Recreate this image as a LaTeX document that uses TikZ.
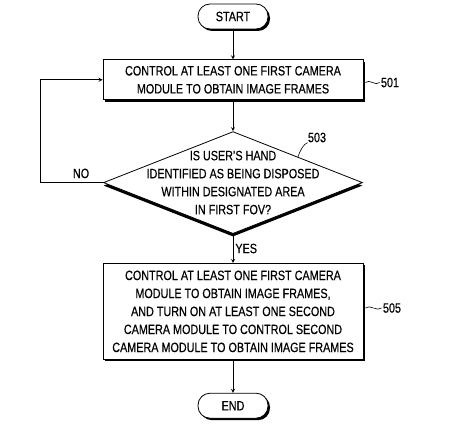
\documentclass[tikz,border=0pt]{standalone}
\usepackage{fontspec}
\setmainfont{Liberation Sans}[FakeStretch=0.8,FakeBold=0.4]
\usetikzlibrary{positioning,shapes.geometric,shadows}

\begin{document}
\begin{tikzpicture}[>=stealth, line width=0.8pt, font=\fontsize{13.5}{18}\selectfont,
  shad/.style={drop shadow={shadow xshift=2pt, shadow yshift=-2pt, fill=black, opacity=1}},
  term/.style={draw, fill=white, rounded corners=12pt, shad, minimum width=70pt, minimum height=25pt, inner sep=0pt},
  proc/.style={draw, fill=white, shad, align=center, minimum width=260pt, inner sep=0pt},
  decision/.style={draw, fill=white, diamond, minimum width=259pt, minimum height=102pt, inner sep=0pt,
    drop shadow={shadow xshift=0pt, shadow yshift=-3pt, fill=black, opacity=1}},
  refnum/.style={inner sep=0pt},
  leader/.style={line width=0.6pt}]
 \useasboundingbox (0,0) rectangle (463pt,-430pt);
 % flow, top to bottom
 \node[term] (start) at (233pt,-16.5pt) {START};
 \node[proc, minimum height=40pt, below=30pt of start] (S501) {CONTROL AT LEAST ONE FIRST CAMERA\\MODULE TO OBTAIN IMAGE FRAMES};
 \node[decision, below=31pt of S501] (S503) {};
 \node[align=center, inner sep=0pt] (q503) at (S503) {IS USER'S HAND\\IDENTIFIED AS BEING DISPOSED\\WITHIN DESIGNATED AREA\\IN FIRST FOV?};
 \node[proc, minimum height=96pt, below=29pt of S503] (S505) {CONTROL AT LEAST ONE FIRST CAMERA\\MODULE TO OBTAIN IMAGE FRAMES,\\AND TURN ON AT LEAST ONE SECOND\\CAMERA MODULE TO CONTROL SECOND\\CAMERA MODULE TO OBTAIN IMAGE FRAMES};
 \node[term, below=33pt of S505] (end) {END};
 % reference numerals
 \node[refnum] (n501) at (390pt,-82.5pt) {501};
 \node[refnum] (n503) at (317pt,-137.5pt) {503};
 \node[refnum] (n505) at (392pt,-308pt) {505};
 \draw[leader] ([xshift=2pt]S501.east |- n501.west) .. controls +(4pt,4pt) and +(-4pt,-4pt) .. ([xshift=-1pt]n501.west);
 \draw[leader] ([xshift=2pt]S505.east |- n505.west) .. controls +(4pt,4pt) and +(-4pt,-4pt) .. ([xshift=-1pt]n505.west);
 \draw[leader] (S503.north east) .. controls +(2pt,6pt) and +(-4pt,-1pt) .. (n503.south west);
 % connectors
 \draw[->] (start) -- (S501);
 \draw[->] (S501) -- (S503);
 \draw[->] (S503) -- node[right, inner sep=2pt] {YES} (S505);
 \draw[->] (S505) -- (end);
 \draw[->] (S503.west) -- node[above=4pt, pos=0.35, inner sep=0pt] {NO} ++(-63pt,0) |- (S501.west);
\end{tikzpicture}
\end{document}
